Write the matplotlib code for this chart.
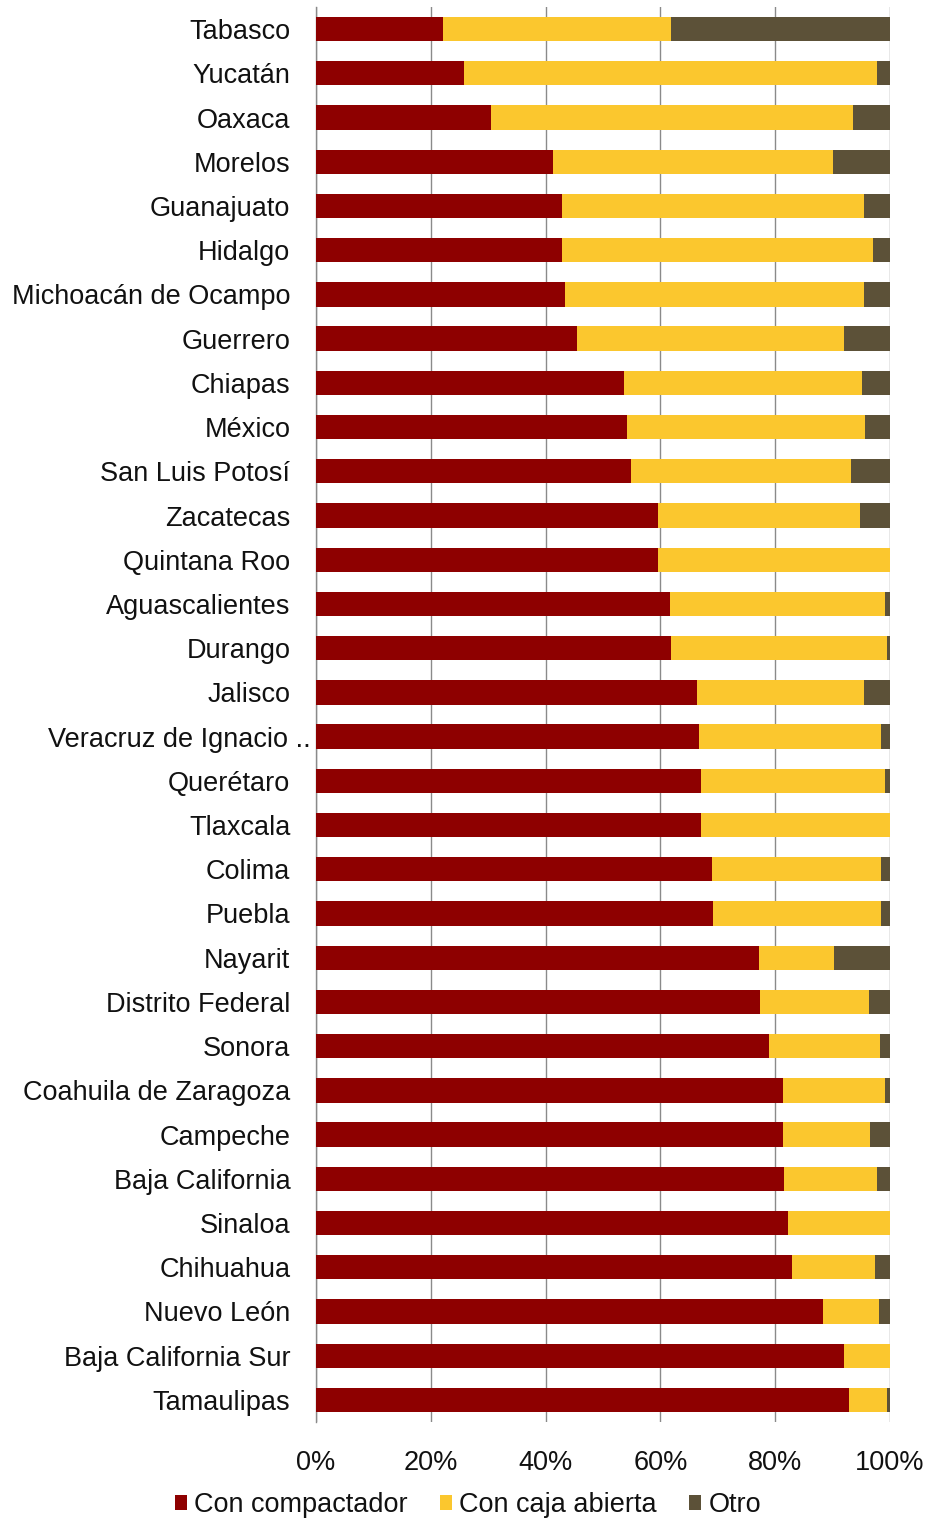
import matplotlib
matplotlib.use("Agg")
import matplotlib.pyplot as plt
import matplotlib.transforms as mtransforms
from matplotlib.patches import Patch
import numpy as np

plt.rcParams['font.family'] = ['Liberation Sans', 'DejaVu Sans']

estados = [
    "Tabasco", "Yucatán", "Oaxaca", "Morelos", "Guanajuato", "Hidalgo",
    "Michoacán de Ocampo", "Guerrero", "Chiapas", "México", "San Luis Potosí",
    "Zacatecas", "Quintana Roo", "Aguascalientes", "Durango", "Jalisco",
    "Veracruz de Ignacio ..", "Querétaro", "Tlaxcala", "Colima", "Puebla",
    "Nayarit", "Distrito Federal", "Sonora", "Coahuila de Zaragoza",
    "Campeche", "Baja California", "Sinaloa", "Chihuahua", "Nuevo León",
    "Baja California Sur", "Tamaulipas",
]

con_compactador = [
    22.1, 25.8, 30.5, 41.3, 42.8, 42.8, 43.4, 45.5, 53.6, 54.1, 54.9,
    59.5, 59.5, 61.6, 61.9, 66.3, 66.8, 67.1, 67.1, 69.0, 69.2,
    77.1, 77.3, 78.9, 81.3, 81.3, 81.6, 82.3, 82.9, 88.4, 92.0, 92.8,
]
con_caja_abierta = [
    39.8, 72.0, 63.1, 48.7, 52.7, 54.2, 52.1, 46.5, 41.6, 41.6, 38.3,
    35.2, 40.5, 37.5, 37.5, 29.1, 31.7, 32.0, 32.9, 29.5, 29.3,
    13.1, 19.0, 19.4, 17.8, 15.2, 16.2, 17.7, 14.4, 9.7, 8.0, 6.6,
]
otro = [
    38.1, 2.2, 6.4, 10.0, 4.5, 3.0, 4.5, 8.0, 4.8, 4.3, 6.8,
    5.3, 0.0, 0.9, 0.6, 4.6, 1.5, 0.9, 0.0, 1.5, 1.5,
    9.8, 3.7, 1.7, 0.9, 3.5, 2.2, 0.0, 2.7, 1.9, 0.0, 0.6,
]

series_nombres = ["Con compactador", "Con caja abierta", "Otro"]
colores = ["#8E0000", "#FBC72E", "#5C5138"]
x_ticks = [0, 20, 40, 60, 80, 100]
x_labels = ["0%", "20%", "40%", "60%", "80%", "100%"]

W, H = 929, 1521
FS = 19.5
fig = plt.figure(figsize=(W / 100, H / 100), dpi=100)
ax = fig.add_axes([316 / W, 1 - 1422 / H, (890 - 316) / W, (1422 - 7) / H])

y = np.arange(len(estados))
left = np.zeros(len(estados))
for vals, col in zip([con_compactador, con_caja_abierta, otro], colores):
    vals = np.array(vals)
    ax.barh(y, vals, left=left, height=0.55, color=col, edgecolor="none", zorder=3)
    left += vals

ax.set_xlim(0, 100)
ax.set_ylim(len(estados) - 0.5, -0.5)
ax.set_xticks(x_ticks)
ax.set_xticklabels(x_labels)
ax.set_yticks(y)
ax.set_yticklabels(estados)
ax.tick_params(axis="both", length=0, labelsize=FS, colors="#111111")
ax.tick_params(axis="y", pad=18.5)
ax.tick_params(axis="x", pad=20)

ax.grid(axis="x", color="#8a8a8a", linewidth=1.0, zorder=0)
for s in ["top", "right", "bottom"]:
    ax.spines[s].set_visible(False)
ax.spines["left"].set_color("#8a8a8a")
ax.spines["left"].set_linewidth(1.0)

# the truncated long label sits closer to the axis
for lbl in ax.get_yticklabels():
    if lbl.get_text().startswith("Veracruz"):
        lbl.set_transform(lbl.get_transform() +
                          mtransforms.ScaledTranslation(20 / 100, 0, fig.dpi_scale_trans))

handles = [Patch(facecolor=c, edgecolor="none") for c in colores]
leg = fig.legend(handles, series_nombres, loc="center", bbox_to_anchor=(468 / W, 1 - 1505 / H),
                 ncol=3, frameon=False, fontsize=FS, handlelength=0.45, handleheight=0.45,
                 handletextpad=0.25, columnspacing=1.2, borderaxespad=0)
for t in leg.get_texts():
    t.set_color("#111111")

fig.savefig("out.png", dpi=100, facecolor="white")
